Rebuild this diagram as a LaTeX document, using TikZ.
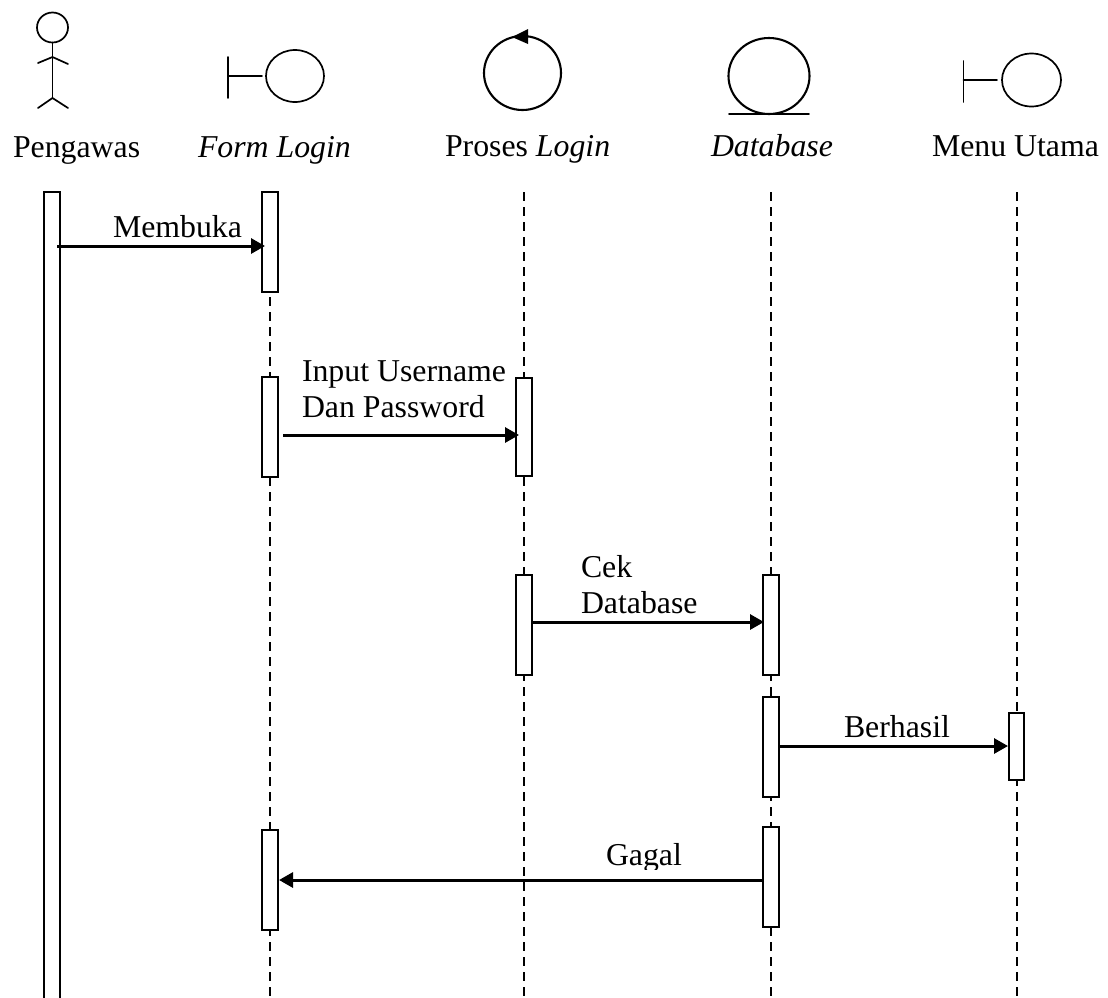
\documentclass[tikz,border=0pt]{standalone}
\usepackage{fontspec}
\setmainfont{Liberation Serif}
\usetikzlibrary{arrows.meta,shapes.geometric}
\tikzset{
  lbl/.style={inner sep=0pt,outer sep=0pt,anchor=base west,font=\fontsize{31.8}{36}\selectfont},
  icon/.style={draw,line width=1.7pt,line cap=round},
  life/.style={line width=2pt,dash pattern=on 9pt off 6pt},
  actbox/.style={draw,fill=white,line width=2pt,rectangle,minimum width=16pt,inner sep=0pt,outer sep=0pt},
  msg/.style={line width=3pt,-{Triangle[length=14pt,width=15pt]}},
  oval/.style={ellipse,draw,line width=1.7pt,inner sep=0pt,outer sep=0pt},
  bigoval/.style={oval,line width=2.1pt}
}
\begin{document}
\begin{tikzpicture}[x=1pt,y=-1pt]
\useasboundingbox (0,0) rectangle (1108,997);
\fill[white] (0,0) rectangle (1108,997);
\begin{scope}
\clip (0,0) rectangle (1108,997);
% actor
\node[oval,minimum width=31pt,minimum height=30pt] (head) at (52.5,27.5) {};
\coordinate (hip) at (52.5,98);
\draw[icon] (head.south) -- (hip);
\draw[icon,line join=round] (38,63) -- (52.5,57) -- (68,64);
\draw[icon,line join=round] (38,108) -- (hip) -- (68,108);
% boundary: form login
\node[oval,minimum width=58pt,minimum height=52pt] (bform) at (295,76) {};
\coordinate (bformbar) at (228,76);
\draw[icon] (228,57) -- (228,98);
\draw[icon] (bformbar) -- ([xshift=-4pt]bform.west);
% control
\node[bigoval,minimum width=77pt,minimum height=74pt] (ctrl) at (522.5,73) {};
\fill (512,37) -- (528,29) -- (528,44) -- cycle;
% database entity
\node[bigoval,minimum width=81pt,minimum height=76pt] (ent) at (769,76) {};
\draw[icon] (729,114) -- (809,114);
% boundary: menu
\node[oval,minimum width=59pt,minimum height=53pt] (bmenu) at (1031.5,80) {};
\coordinate (bmenubar) at (963.5,80);
\draw[icon] (963.5,61) -- (963.5,102);
\draw[icon] (bmenubar) -- ([xshift=-5pt]bmenu.west);
% header labels, cut off just below the baseline as in the picture
\begin{scope}
\clip (0,0) rectangle (1108,164);
\node[lbl] (t1) at (13,157) {Pengawas};
\node[lbl] (t2) at (198,157) {\itshape Form Login};
\node[lbl] (t3) at (445,156) {Proses \itshape Login};
\node[lbl] (t4) at (711,156) {\itshape Database};
\node[lbl] (t5) at (932,156) {Menu Utama};
\end{scope}
% lifelines
\coordinate (l1t) at (270,192); \coordinate (l1b) at (270,997);
\coordinate (l2t) at (524,192); \coordinate (l2b) at (524,997);
\coordinate (l3t) at (771,192); \coordinate (l3b) at (771,997);
\coordinate (l4t) at (1017,192); \coordinate (l4b) at (1017,997);
\draw[life] (l1t) -- (l1b);
\draw[life] (l2t) -- (l2b);
\draw[life] (l3t) -- (l3b);
\draw[life] (l4t) -- (l4b);
% activations
\node[actbox,minimum height=820pt] (a0) at (52,602) {};
\node[actbox,minimum height=100pt] (f1) at (270,242) {};
\node[actbox,minimum height=100pt] (f2) at (270,427) {};
\node[actbox,minimum height=100pt] (f3) at (270,880) {};
\node[actbox,minimum height=98pt] (p1) at (524,427) {};
\node[actbox,minimum height=100pt] (p2) at (524,625) {};
\node[actbox,minimum height=100pt] (d1) at (771,625) {};
\node[actbox,minimum height=100pt] (d2) at (771,747) {};
\node[actbox,minimum height=100pt] (d3) at (771,877) {};
\node[actbox,minimum height=67pt,minimum width=15pt] (m1) at (1016.5,746.5) {};
% messages
\draw[msg] ([xshift=-3pt,yshift=-54pt]a0.north east) -- ([xshift=3pt,yshift=-54pt]f1.north west);
\draw[msg] ([xshift=5pt,yshift=-58pt]f2.north east) -- ([xshift=3pt,yshift=-57pt]p1.north west);
\draw[msg] ([xshift=1pt,yshift=-47pt]p2.north east) -- ([xshift=1pt,yshift=-47pt]d1.north west);
\draw[msg] ([xshift=1pt,yshift=-49pt]d2.north east) -- ([xshift=-1pt,yshift=-33pt]m1.north west);
\draw[msg] ([xshift=1pt,yshift=-53pt]d3.north west) -- ([xshift=1pt,yshift=-50pt]f3.north east);
% message labels
\node[lbl] (x1) at (113,237) {Membuka};
\node[lbl] (x2) at (302,381) {Input Username};
\node[lbl] (x3) at (302,417) {Dan Password};
\node[lbl] (x4) at (581,577) {Cek};
\node[lbl] (x5) at (581,613) {Database};
\node[lbl] (x6) at (844,737) {Berhasil};
\begin{scope}
\clip (560,820) rectangle (720,869);
\node[lbl] (x7) at (606,865) {Gagal};
\end{scope}
\end{scope}
\end{tikzpicture}
\end{document}
